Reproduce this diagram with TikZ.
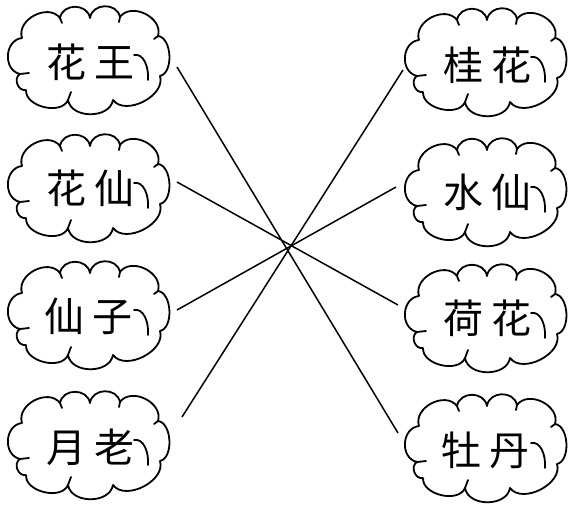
\documentclass[tikz,border=0pt]{standalone}
\usepackage{fontspec}
\newfontfamily\cjk{Noto Sans CJK SC}
\begin{document}
\begin{tikzpicture}[x=1pt,y=1pt,
  cloudline/.style={line width=1.8pt, line join=round, line cap=round},
  bmp/.style={bend left=80, looseness=#1},
  link/.style={line width=1.5pt},
  txt/.style={font=\cjk\fontsize{40}{40}\selectfont, inner sep=0pt},
  cloudpic/.pic={
    \draw[cloudline] (-68,-14) to[bmp=1.26] (-66,22) to[bmp=1.15] (-28,42)
      to[bmp=1.3] (2,42) to[bmp=1.3] (32,43) to[bmp=1.15] (70,24)
      to[bmp=0.9] (72,-16) to[bmp=1.0] (25,-40) to[bmp=1.1] (-20,-40)
      to[bmp=1.0] (-62,-30) to[bmp=1.23] (-68,-14);
    \draw[cloudline] (-68,-14) .. controls (-64,-13) .. (-59,-13);
    \draw[cloudline] (46,5) .. controls (55,7) and (61,-6) .. (60,-20);
    \draw[cloudline] (-20,-40) .. controls (-19,-36) .. (-17,-32);
    \draw[cloudline] (-28,42) -- (-26,37);
    \draw[cloudline] (32,43) -- (31,38);
    \draw[cloudline] (70,24) -- (66,21);
  }]
\useasboundingbox (0,0) rectangle (572,-509);
% left clouds
\coordinate (c1) at (88,-60);
\coordinate (c2) at (88,-188);
\coordinate (c3) at (88,-315);
\coordinate (c4) at (88,-445);
% right clouds
\coordinate (r1) at (485,-62);
\coordinate (r2) at (485,-192);
\coordinate (r3) at (485,-318);
\coordinate (r4) at (485,-448);
\foreach \n in {c1,c2,c3,c4,r1,r2,r3,r4} {\pic at (\n) {cloudpic};}
\node[txt] (t1) at ([shift={(2,-2)}]c1) {花\hspace{8pt}王};
\node[txt] (t2) at ([shift={(2,0)}]c2) {花\hspace{8pt}仙};
\node[txt] (t3) at ([shift={(0,-1)}]c3) {仙\hspace{8pt}子};
\node[txt] (t4) at ([shift={(2,-2)}]c4) {月\hspace{8pt}老};
\node[txt] (u1) at ([shift={(2,-3)}]r1) {桂\hspace{8pt}花};
\node[txt] (u2) at ([shift={(2,0)}]r2) {水\hspace{8pt}仙};
\node[txt] (u3) at ([shift={(2,0)}]r3) {荷\hspace{8pt}花};
\node[txt] (u4) at ([shift={(0,-2)}]r4) {牡\hspace{8pt}丹};
% connectors
\draw[link] ([shift={(89,-7)}]c1) -- ([shift={(-87,15)}]r4);
\draw[link] ([shift={(89,6)}]c2) -- ([shift={(-87,13)}]r3);
\draw[link] ([shift={(89,5)}]c3) -- ([shift={(-89,5)}]r2);
\draw[link] ([shift={(94,28)}]c4) -- ([shift={(-82,-8)}]r1);
\end{tikzpicture}
\end{document}
